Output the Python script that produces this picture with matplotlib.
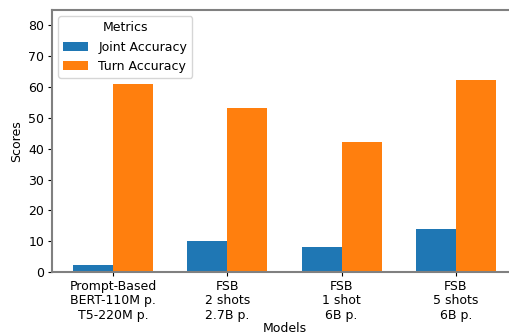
import numpy as np
import matplotlib
matplotlib.use('Agg')
import matplotlib.pyplot as plt

# 数据
models = ['Prompt-Based\nBERT-110M p.\nT5-220M p.', 'FSB\n2 shots\n2.7B p.',
          'FSB\n1 shot\n6B p.', 'FSB\n5 shots\n6B p.']
joint_acc = [2.2, 10.0, 8.1, 13.9]
turn_acc = [60.9, 53.2, 42.2, 62.2]

plt.rc('font', size=9)
fig = plt.figure(figsize=(5.09, 3.34), dpi=100)
ax = fig.add_axes([52 / 509, 62 / 334, 465 / 509, 262 / 334])

x = np.arange(len(models))
width = 0.35
ax.bar(x - width / 2, joint_acc, width, label='Joint Accuracy', color='#1f77b4')
ax.bar(x + width / 2, turn_acc, width, label='Turn Accuracy', color='#ff7f0e')

ax.set_xticks(x)
ax.set_xticklabels(models, linespacing=1.15)
ax.set_ylim(0, 85)
ax.set_xlim(-0.535, 3.535)
ax.set_ylabel('Scores')
ax.set_xlabel('Models', labelpad=0)
ax.tick_params(length=3, pad=2.5)
ax.legend(title='Metrics', loc='upper left')
for s in ax.spines.values():
    s.set_color('#808080')
    s.set_linewidth(1.5)
ax.spines['right'].set_visible(False)

plt.savefig('out.png', dpi=100)
